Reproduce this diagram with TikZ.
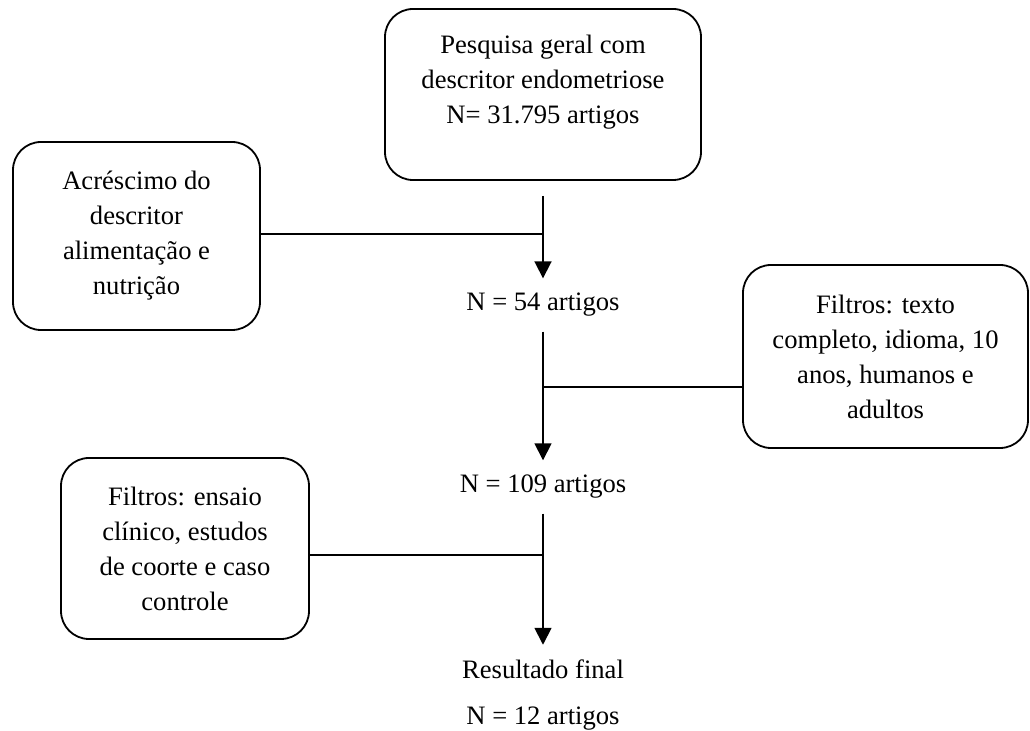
\documentclass[tikz,border=0pt]{standalone}
\usepackage{fontspec}
\setmainfont{Liberation Serif}
\usetikzlibrary{arrows.meta}

\begin{document}
\begin{tikzpicture}[
    x=0.5pt, y=-0.5pt,
    font={\fontsize{13.3pt}{17.5pt}\selectfont},
    box/.style={rectangle, draw=black, line width=0.9pt, rounded corners=14pt, align=center},
    boxtext/.style={align=center, inner sep=0pt},
    count/.style={align=center, inner sep=0pt, outer sep=7.5pt},
    arrow/.style={-{Triangle[width=8.5pt, length=8.5pt]}, line width=0.9pt},
    link/.style={line width=0.9pt}
]
\useasboundingbox (0,0) rectangle (1030,731);

% Top search box
\node[box, minimum width=158pt, minimum height=85.5pt] at (543,94.5) (search) {};
\node[boxtext] at (543,82) (searchtxt) {Pesquisa geral com\\descritor endometriose\\N= 31.795 artigos};

% Side boxes
\node[box, minimum width=123.5pt, minimum height=94pt] at (136.5,236) (add) {Acréscimo do\\descritor\\alimentação e\\nutrição};
\node[box, minimum width=142.5pt, minimum height=91.5pt] at (885.5,356.5) (filtA) {Filtros: texto\\completo, idioma, 10\\anos, humanos e\\adultos};
\node[box, minimum width=124pt, minimum height=90.5pt] at (185,548.5) (filtB) {Filtros: ensaio\\clínico, estudos\\de coorte e caso\\controle};

% Counts
\node[count] at (543,305) (n54) {N = 54 artigos};
\node[count] at (543,487) (n109) {N = 109 artigos};
\node[count, font={\fontsize{13.3pt}{23pt}\selectfont}] at (543,695) (final) {Resultado final\\N = 12 artigos};

% Junctions on the main line
\coordinate (j1) at (543,234);
\coordinate (j2) at (543,387);
\coordinate (j3) at (543,555);

% Main arrows
\draw[arrow, shorten <=7.5pt] (search.south) -- (n54);
\draw[arrow] (n54) -- (n109);
\draw[arrow] (n109) -- (final);

% Side connections
\draw[link] (j1 -| add.east) -- (j1);
\draw[link] (j2 -| filtA.west) -- (j2);
\draw[link] (j3 -| filtB.east) -- (j3);

\end{tikzpicture}
\end{document}
